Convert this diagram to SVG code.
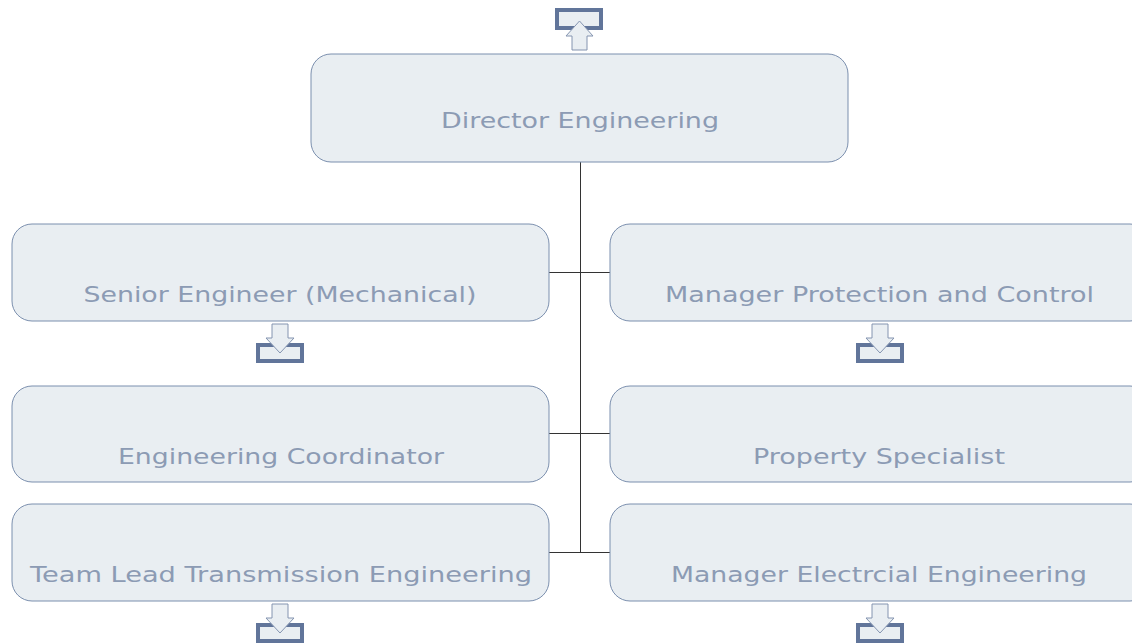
<svg xmlns="http://www.w3.org/2000/svg" width="1132" height="644" viewBox="0 0 1132 644">
<style>
.box{fill:#e9eef2;stroke:#7b8fae;stroke-width:1}
.lbl{font-family:"DejaVu Sans","Liberation Sans",sans-serif;font-size:21px;fill:#8c9bb4;text-anchor:middle}
.tray{fill:#e9eef2;stroke:#61759a;stroke-width:4}
.arr{fill:#e9eef2;stroke:#8494b0;stroke-width:1}
.ln{stroke:#333;stroke-width:1;fill:none}
</style>
<defs>
<g id="down">
<rect class="tray" x="-22" y="21" width="44" height="16"/>
<path class="arr" d="M-8,0 H8 V14 H14 L0,29 L-14,14 H-8 Z"/>
</g>
</defs>
<rect width="1132" height="644" fill="#fff"/>
<g id="connectors">
<path class="ln" d="M580.5,162 V552 M549,272.5 H610 M549,433.5 H610 M549,552.5 H610"/>
</g>
<g id="top-icon">
<rect class="tray" x="557" y="10" width="44" height="18"/>
<path class="arr" d="M572,50 H587 V36 H593 L579.5,21 L566,36 H572 Z"/>
</g>
<g id="director">
<rect class="box" x="311" y="54" width="537" height="108" rx="20"/>
<text class="lbl" x="580" y="128" textLength="278" lengthAdjust="spacingAndGlyphs">Director Engineering</text>
</g>
<g id="senior">
<rect class="box" x="12" y="224" width="537" height="97" rx="20"/>
<text class="lbl" x="280" y="302" textLength="393" lengthAdjust="spacingAndGlyphs">Senior Engineer (Mechanical)</text>
<use href="#down" x="280" y="324"/>
</g>
<g id="manager-protection">
<rect class="box" x="610" y="224" width="540" height="97" rx="20"/>
<text class="lbl" x="879.5" y="302" textLength="429" lengthAdjust="spacingAndGlyphs">Manager Protection and Control</text>
<use href="#down" x="880" y="324"/>
</g>
<g id="coordinator">
<rect class="box" x="12" y="386" width="537" height="96" rx="20"/>
<text class="lbl" x="281" y="464" textLength="326" lengthAdjust="spacingAndGlyphs">Engineering Coordinator</text>
</g>
<g id="property">
<rect class="box" x="610" y="386" width="540" height="96" rx="20"/>
<text class="lbl" x="879" y="464" textLength="252" lengthAdjust="spacingAndGlyphs">Property Specialist</text>
</g>
<g id="team-lead">
<rect class="box" x="12" y="504" width="537" height="97" rx="20"/>
<text class="lbl" x="281" y="582" textLength="502" lengthAdjust="spacingAndGlyphs">Team Lead Transmission Engineering</text>
<use href="#down" x="280" y="604"/>
</g>
<g id="manager-electrical">
<rect class="box" x="610" y="504" width="540" height="97" rx="20"/>
<text class="lbl" x="879" y="582" textLength="416" lengthAdjust="spacingAndGlyphs">Manager Electrcial Engineering</text>
<use href="#down" x="880" y="604"/>
</g>
</svg>
